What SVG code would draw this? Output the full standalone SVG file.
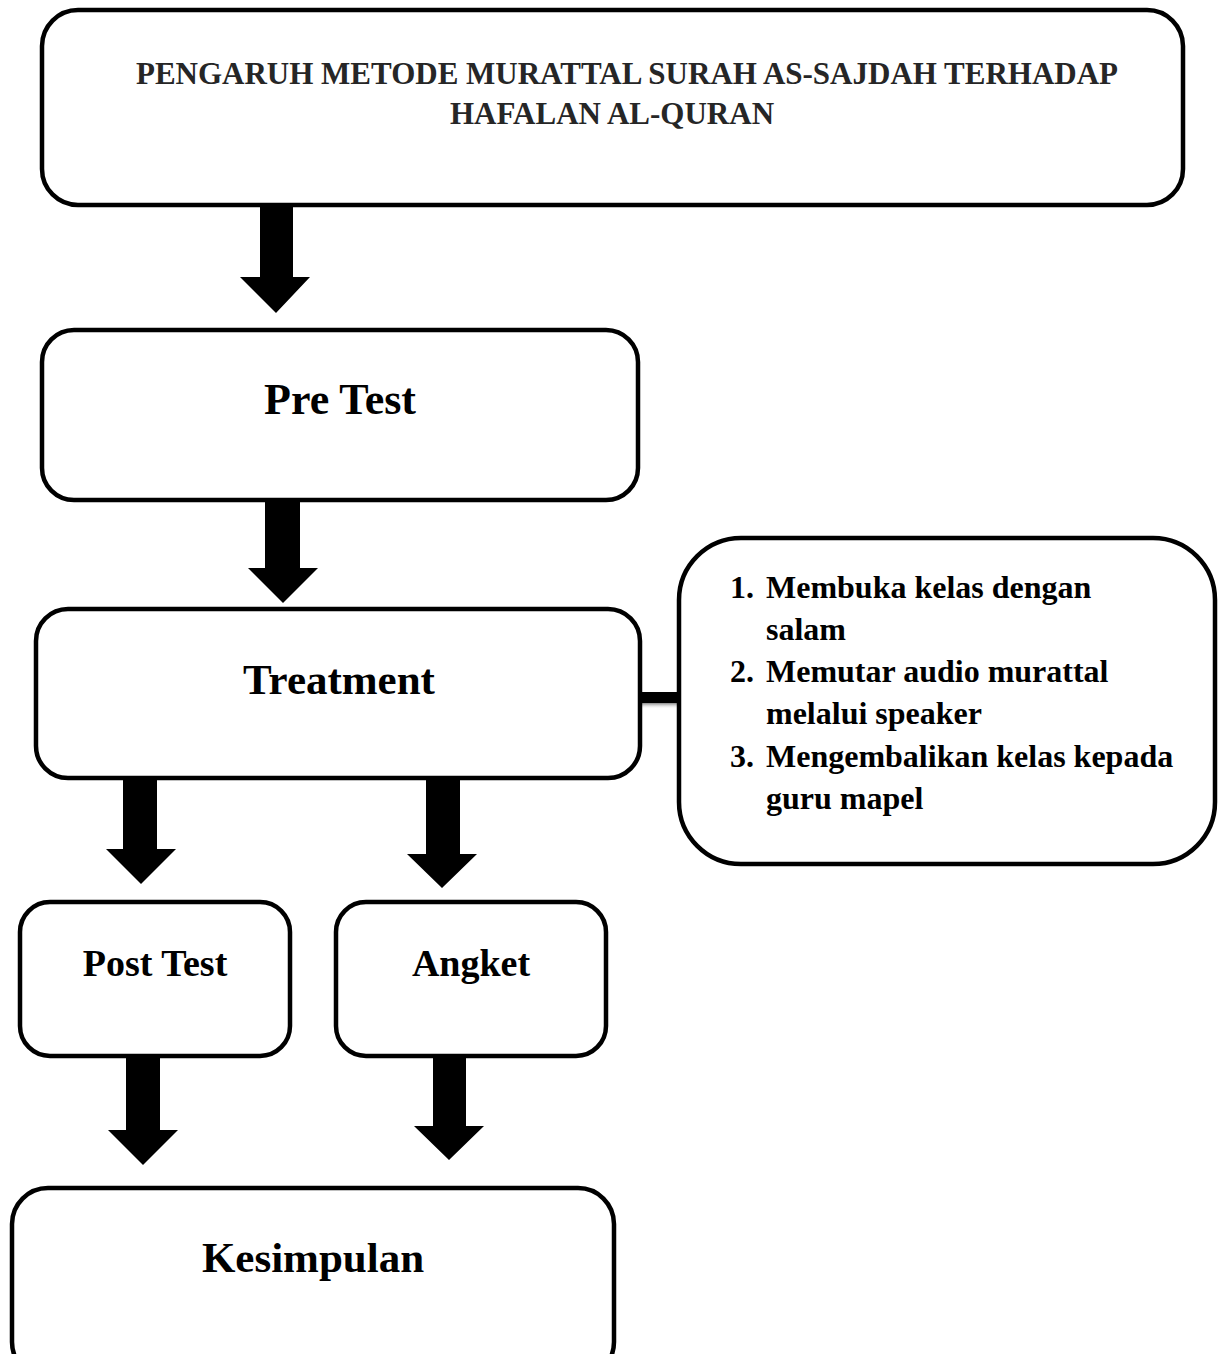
<svg xmlns="http://www.w3.org/2000/svg" width="1218" height="1354" viewBox="0 0 1218 1354">
<defs>
<style>
.box{fill:#fff;stroke:#000;stroke-width:4.5}
.t{font-family:"Liberation Serif","Times New Roman",serif;font-weight:bold;fill:#000}
.big{font-size:43px;text-anchor:middle}
.mid{font-size:38px;text-anchor:middle}
.title{font-size:31px;text-anchor:middle;fill:#262626}
.li{font-size:32px}
.arr{fill:#000}
</style>
<linearGradient id="sh" x1="0" y1="0" x2="0" y2="1">
<stop offset="0" stop-color="#888"/>
<stop offset="1" stop-color="#fff" stop-opacity="0"/>
</linearGradient>
</defs>
<rect width="1218" height="1354" fill="#fff"/>
<g id="connectors">
<polygon class="arr" points="260,205 293,205 293,277 310,277 276,313 240,277 260,277"/>
<polygon class="arr" points="265,500 300,500 300,568 318,568 283,603 248,568 265,568"/>
<polygon class="arr" points="123,778 157,778 157,849 176,849 141,884 106,849 123,849"/>
<polygon class="arr" points="426,778 460,778 460,854 477,854 442,888 407,854 426,854"/>
<polygon class="arr" points="126,1055 160,1055 160,1130 178,1130 143,1165 108,1130 126,1130"/>
<polygon class="arr" points="433,1055 466,1055 466,1126 484,1126 449,1160 414,1126 433,1126"/>
<rect x="640" y="703" width="40" height="6" fill="url(#sh)"/>
<rect x="640" y="692" width="40" height="11" fill="#000"/>
</g>
<g id="title">
<rect class="box" x="42" y="10" width="1141" height="195" rx="36"/>
<text class="t title" x="627" y="84">PENGARUH METODE MURATTAL SURAH AS-SAJDAH TERHADAP</text>
<text class="t title" x="612" y="124">HAFALAN AL-QURAN</text>
</g>
<g id="pretest">
<rect class="box" x="42" y="330" width="596" height="170" rx="32"/>
<text class="t big" x="340" y="414" style="font-size:44px">Pre Test</text>
</g>
<g id="treatment">
<rect class="box" x="36" y="609" width="604" height="169" rx="32"/>
<text class="t big" x="339" y="694">Treatment</text>
</g>
<g id="steps">
<rect class="box" x="679" y="538" width="536" height="326" rx="62"/>
<text class="t li" x="730" y="598">1.</text>
<text class="t li" x="766" y="598">Membuka kelas dengan</text>
<text class="t li" x="766" y="640">salam</text>
<text class="t li" x="730" y="682">2.</text>
<text class="t li" x="766" y="682">Memutar audio murattal</text>
<text class="t li" x="766" y="724">melalui speaker</text>
<text class="t li" x="730" y="767">3.</text>
<text class="t li" x="766" y="767">Mengembalikan kelas kepada</text>
<text class="t li" x="766" y="809">guru mapel</text>
</g>
<g id="posttest">
<rect class="box" x="20" y="902" width="270" height="154" rx="30"/>
<text class="t mid" x="155" y="976">Post Test</text>
</g>
<g id="angket">
<rect class="box" x="336" y="902" width="270" height="154" rx="30"/>
<text class="t mid" x="471" y="976">Angket</text>
</g>
<g id="kesimpulan">
<rect class="box" x="12" y="1188" width="602" height="190" rx="36"/>
<text class="t big" x="313" y="1272">Kesimpulan</text>
</g>
</svg>
